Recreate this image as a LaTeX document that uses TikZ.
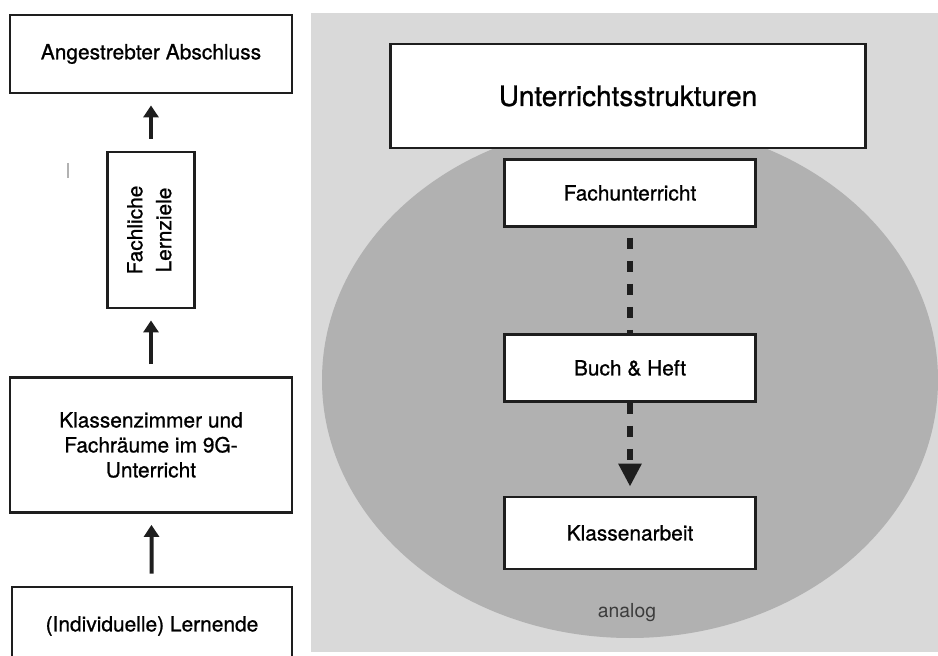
\documentclass[tikz,border=0pt]{standalone}
\usepackage{fontspec}
\setmainfont[FakeBold=0.9]{TeX Gyre Heros}
\newfontfamily\plainheros{TeX Gyre Heros}
\usepackage{graphicx}
\usepackage{xcolor}
\usepackage{tikz}
\usetikzlibrary{calc,arrows.meta}
\definecolor{panel}{HTML}{D9D9D9}
\definecolor{disc}{HTML}{B1B1B1}
\definecolor{ink}{HTML}{1E1E1E}
\definecolor{soft}{HTML}{3C3C3C}
\tikzset{
  box/.style={draw=ink,line width=1.6pt,fill=white,align=center,inner sep=2pt,font=\fontsize{11.9}{14.2}\selectfont},
  up/.style={-{Triangle[length=.24cm,width=.3cm]},line width=.08cm,ink,shorten <=.24cm,shorten >=.22cm},
  flow/.style={line width=.12cm,ink,dash pattern=on .22cm off .24cm}
}

\begin{document}
\begin{tikzpicture}
\clip (0,0) rectangle (18.76,13.1);
\fill[panel] (6.22,0.06) rectangle (18.76,12.84);
\fill[disc] (12.6,5.5) ellipse [x radius=6.16,y radius=5.16];
\draw[gray!60,line width=.6pt] (1.36,9.84)--(1.36,9.54);
\node[box,minimum width=5.64cm,minimum height=1.56cm] (ziel) at (3.02,12.02) {Angestrebter Abschluss};
\node[box,minimum width=1.74cm,minimum height=3.12cm,font=\fontsize{11.9}{16.4}\selectfont] (lern) at (3.02,8.5)
  {\rotatebox{90}{\begin{tabular}{@{}c@{}}Fachliche\\Lernziele\end{tabular}}};
\node[box,minimum width=5.64cm,minimum height=2.7cm] (raum) at (3.02,4.2) {Klassenzimmer und\\Fachräume im 9G-\\Unterricht};
\node[box,minimum width=5.6cm,minimum height=1.56cm] (lernende) at (3.04,0.58) {(Individuelle) Lernende};
\foreach \a/\b in {lern/ziel,raum/lern,lernende/raum}{
  \draw[up] (\a) -- (\b);}
\node[box,minimum width=9.5cm,minimum height=2.08cm,font=\fontsize{15.9}{19}\selectfont] (struktur) at (12.56,11.18) {Unterrichtsstrukturen};
\node[box,minimum width=5.02cm,minimum height=1.34cm] (fach) at (12.6,9.24) {Fachunterricht};
\node[box,minimum width=5.02cm,minimum height=1.34cm] (buch) at (12.6,5.74) {Buch \& Heft};
\node[box,minimum width=5.02cm,minimum height=1.44cm] (arbeit) at (12.6,2.44) {Klassenarbeit};
\node[text=soft,font=\plainheros\fontsize{11}{13}\selectfont] (analog) at (12.54,0.84) {analog};
\draw[flow,shorten <=.2cm] (fach) -- (buch);
\draw[flow,-{Triangle[length=.46cm,width=.44cm]},shorten >=.18cm] (buch) -- (arbeit);
\end{tikzpicture}
\end{document}
